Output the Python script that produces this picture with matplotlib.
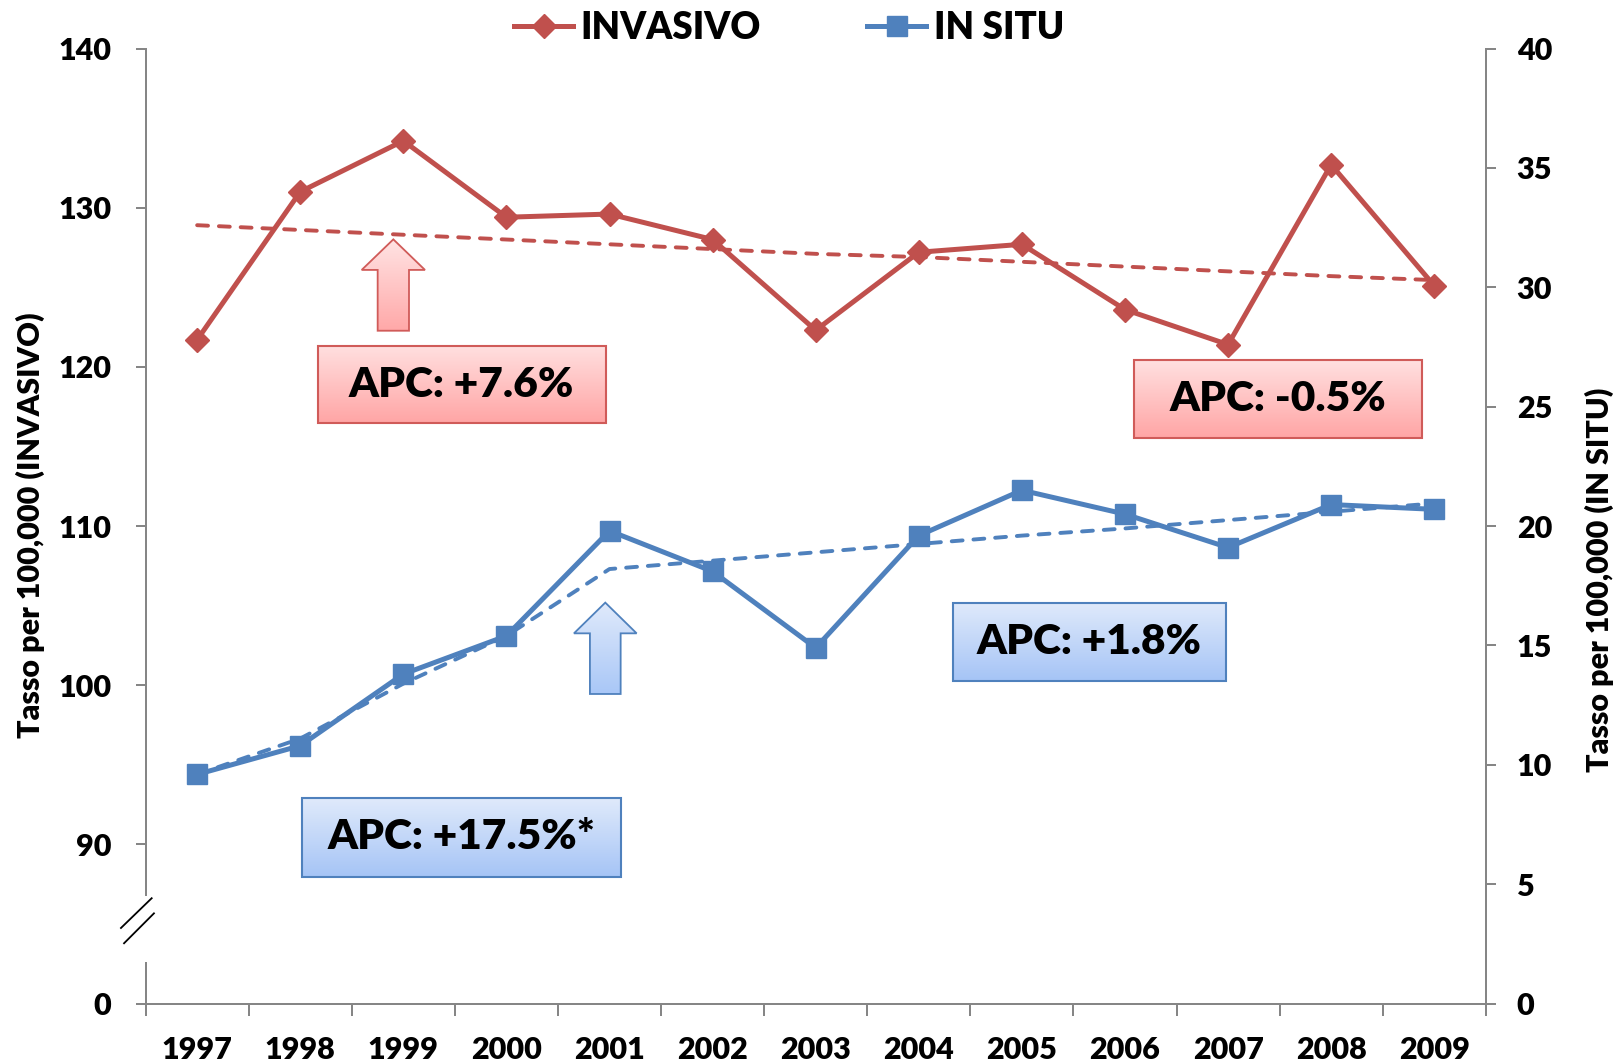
import numpy as np
import matplotlib
matplotlib.use('Agg')
import matplotlib.pyplot as plt
from matplotlib.patches import Rectangle, Polygon
from matplotlib.lines import Line2D
from matplotlib.colors import LinearSegmentedColormap

plt.rcParams['font.family'] = ['Lato', 'DejaVu Sans']
WEIGHT = 'heavy'
plt.rcParams['font.weight'] = WEIGHT

# ---------------- data ----------------
years = ['1997', '1998', '1999', '2000', '2001', '2002', '2003',
         '2004', '2005', '2006', '2007', '2008', '2009']
invasivo = [121.7, 131.0, 134.2, 129.4, 129.6, 128.0, 122.3,
            127.2, 127.7, 123.6, 121.4, 132.7, 125.1]
in_situ = [9.6, 10.8, 13.8, 15.4, 19.8, 18.1, 14.9,
           19.6, 21.5, 20.5, 19.1, 20.9, 20.7]
invasivo_trend = [128.9, 128.6, 128.3, 128.0, 127.7, 127.4, 127.1,
                  126.9, 126.6, 126.3, 126.0, 125.7, 125.45]
in_situ_trend = [9.6, 11.1, 13.4, 15.4, 18.2, 18.55, 18.9,
                 19.25, 19.6, 19.9, 20.25, 20.6, 20.95]
left_ticks = [80, 90, 100, 110, 120, 130, 140]
left_ticklabels = ['0', '90', '100', '110', '120', '130', '140']
right_ticks = [0, 5, 10, 15, 20, 25, 30, 35, 40]
series_names = ['INVASIVO', 'IN SITU']
apc_invasivo = ['APC: +7.6%', 'APC: -0.5%']
apc_insitu = ['APC: +17.5%*', 'APC: +1.8%']

RED = '#C0504D'
BLUE = '#4F81BD'
GRAY = '#868686'

W, H = 1619, 1062
fig = plt.figure(figsize=(W / 100, H / 100), dpi=100)
L, R, T, B = 145.6, 1485.8, 48.5, 1003.6
ax = fig.add_axes([L / W, 1 - B / H, (R - L) / W, (B - T) / H])
ax2 = ax.twinx()

x = np.arange(len(years))

# ---------------- series ----------------
ax.plot(x, invasivo, color=RED, lw=3.6, marker='D', ms=12.5,
        mec=RED, mfc=RED, mew=1.0, zorder=4, solid_joinstyle='round')
ax.plot(x, invasivo_trend, color=RED, lw=2.8, ls=(0, (2.8, 2.8)),
        dash_capstyle='round', zorder=3)
ax2.plot(x, in_situ, color=BLUE, lw=3.6, marker='s', ms=14.5,
         mec=BLUE, mfc=BLUE, mew=1.0, zorder=4, solid_joinstyle='round')
ax2.plot(x, in_situ_trend, color=BLUE, lw=2.8, ls=(0, (2.8, 2.8)),
         dash_capstyle='round', zorder=3)

# ---------------- axes ----------------
ax.set_xlim(-0.5, len(years) - 0.5)
ax.set_ylim(80, 140)
ax2.set_ylim(0, 40)

ax.set_xticks(x)
ax.set_xticklabels(years)
ax.set_xticks(np.arange(-0.5, len(years), 1.0), minor=True)
ax.tick_params(axis='x', which='major', length=0, pad=23, labelsize=22)
ax.tick_params(axis='x', which='minor', length=8.6, width=1.44,
               color=GRAY, direction='out')

ax.set_yticks(left_ticks)
ax.set_yticklabels(left_ticklabels)
ax.tick_params(axis='y', which='major', length=7.2, width=1.44, color=GRAY,
               direction='out', pad=17.5, labelsize=22)
ax2.set_yticks(right_ticks)
ax2.tick_params(axis='y', which='major', length=7.2, width=1.44, color=GRAY,
                direction='out', pad=15, labelsize=22)

for a in (ax, ax2):
    for s in a.spines.values():
        s.set_color(GRAY)
        s.set_linewidth(1.44)
    a.spines['top'].set_visible(False)
ax.spines['right'].set_visible(False)
ax2.spines['left'].set_visible(False)
ax2.spines['bottom'].set_visible(False)

# broken left axis
ax.spines['left'].set_bounds(86.8, 140)
ax.plot([-0.5, -0.5], [80, 82.63], color=GRAY, lw=1.44, clip_on=False,
        solid_capstyle='butt', zorder=5)
ax.plot([-0.739, -0.441], [84.75, 86.62], color='black', lw=1.3, clip_on=False, zorder=5)
ax.plot([-0.709, -0.419], [83.79, 85.67], color='black', lw=1.3, clip_on=False, zorder=5)

# axis titles
fig.text(30 / W, 1 - 525 / H, 'Tasso per 100,000 (INVASIVO)', rotation=90,
         ha='center', va='center', fontsize=22, fontweight=WEIGHT)
fig.text(1599 / W, 1 - 580 / H, 'Tasso per 100,000 (IN SITU)', rotation=90,
         ha='center', va='center', fontsize=22, fontweight=WEIGHT)

# legend
handles = [Line2D([], [], color=RED, lw=3.6, marker='D', ms=12.5, mec=RED, mfc=RED),
           Line2D([], [], color=BLUE, lw=3.6, marker='s', ms=14.5, mec=BLUE, mfc=BLUE)]
fig.legend(handles, series_names, loc='center', bbox_to_anchor=(789 / W, 1 - 28 / H),
           ncol=2, frameon=False, handlelength=1.6,
           handletextpad=0.2, columnspacing=2.9, borderpad=0,
           prop={'weight': WEIGHT, 'size': 26.5})


# ---------------- annotation boxes & arrows ----------------
def gradient_patch(a, patch, extent, top_c, bot_c, z):
    a.add_patch(patch)
    cmap = LinearSegmentedColormap.from_list('g', [bot_c, top_c])
    grad = np.linspace(0, 1, 256).reshape(-1, 1)
    im = a.imshow(grad, cmap=cmap, extent=extent, origin='lower',
                  aspect='auto', zorder=z, interpolation='bilinear')
    im.set_clip_path(patch)


def box(a, x0, x1, y0, y1, text, top_c, bot_c, edge):
    p = Rectangle((x0, y0), x1 - x0, y1 - y0, facecolor='none',
                  edgecolor=edge, lw=1.5, zorder=7)
    gradient_patch(a, p, (x0, x1, y0, y1), top_c, bot_c, 6)
    a.text((x0 + x1) / 2, (y0 + y1) / 2, text, ha='center', va='center',
           fontsize=30.5, fontweight=WEIGHT, zorder=8)


def up_arrow(a, sx0, sx1, hx0, hx1, ybot, yshoulder, ytip, top_c, bot_c, edge):
    tipx = (hx0 + hx1) / 2
    pts = [(sx0, ybot), (sx1, ybot), (sx1, yshoulder), (hx1, yshoulder),
           (tipx, ytip), (hx0, yshoulder), (sx0, yshoulder)]
    p = Polygon(pts, closed=True, facecolor='none', edgecolor=edge, lw=1.3, zorder=7)
    gradient_patch(a, p, (hx0, hx1, ybot, ytip), top_c, bot_c, 6)


RED_TOP, RED_BOT, RED_EDGE = '#FFE0E0', '#FFA5A5', '#D05B59'
BLU_TOP, BLU_BOT, BLU_EDGE = '#E0EAFB', '#A5C4F6', '#4F81BD'

box(ax, 1.169, 3.963, 116.46, 121.31, apc_invasivo[0], RED_TOP, RED_BOT, RED_EDGE)
box(ax, 9.085, 11.88, 115.50, 120.40, apc_invasivo[1], RED_TOP, RED_BOT, RED_EDGE)
box(ax, 1.020, 4.109, 87.97, 92.92, apc_insitu[0], BLU_TOP, BLU_BOT, BLU_EDGE)
box(ax, 7.332, 9.980, 100.25, 105.19, apc_insitu[1], BLU_TOP, BLU_BOT, BLU_EDGE)

up_arrow(ax, 1.751, 2.055, 1.596, 2.210, 122.27, 126.09, 128.01,
         '#FFE4E4', '#FFA8A8', RED_EDGE)
up_arrow(ax, 3.810, 4.108, 3.655, 4.263, 99.45, 103.26, 105.19,
         '#E0EAFB', '#A9C7F7', BLU_EDGE)

ax.set_xlim(-0.5, len(years) - 0.5)
ax.set_ylim(80, 140)

fig.savefig('out.png', dpi=100)
